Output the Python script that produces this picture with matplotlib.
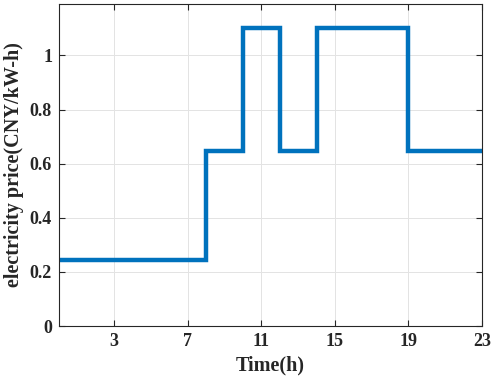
import matplotlib
matplotlib.use("Agg")
from matplotlib import pyplot as plt

# hourly electricity price (CNY/kW-h), hour 0..23
hours = list(range(24))
prices = [0.245] * 8 + [0.645] * 2 + [1.1] * 2 + [0.645] * 2 + [1.1] * 5 + [0.645] * 5
x_ticks = [3, 7, 11, 15, 19, 23]
y_ticks = [0, 0.2, 0.4, 0.6, 0.8, 1]
y_tick_labels = ["0", "0.2", "0.4", "0.6", "0.8", "1"]

plt.rcParams["font.family"] = ["Liberation Serif", "DejaVu Serif"]
plt.rcParams["font.weight"] = "bold"

fig = plt.figure(figsize=(4.98, 3.87), dpi=100)
ax = fig.add_axes([0.1185, 0.1576, 0.8495, 0.832])

ax.step(hours, prices, where="post", color="#0072BD", linewidth=3.2,
        solid_joinstyle="miter")

ax.set_xlim(0, 23)
ax.set_ylim(0, 1.19)
ax.set_xticks(x_ticks)
ax.set_yticks(y_ticks)
ax.set_yticklabels(y_tick_labels)
ax.grid(True, color="#e3e3e3", linewidth=0.7)
ax.set_axisbelow(True)

ax.tick_params(direction="in", top=True, right=True, length=4, width=0.8,
               labelsize=13, colors="#262626", pad=5)
for lab in ax.get_xticklabels() + ax.get_yticklabels():
    lab.set_fontweight("bold")
for sp in ax.spines.values():
    sp.set_color("#262626")
    sp.set_linewidth(0.8)

ax.set_xlabel("Time(h)", fontsize=14.5, fontweight="bold", color="#262626", labelpad=4)
ax.set_ylabel("electricity price(CNY/kW-h)", fontsize=14.5, fontweight="bold",
              color="#262626", labelpad=4)

fig.savefig("out.png", dpi=100)
